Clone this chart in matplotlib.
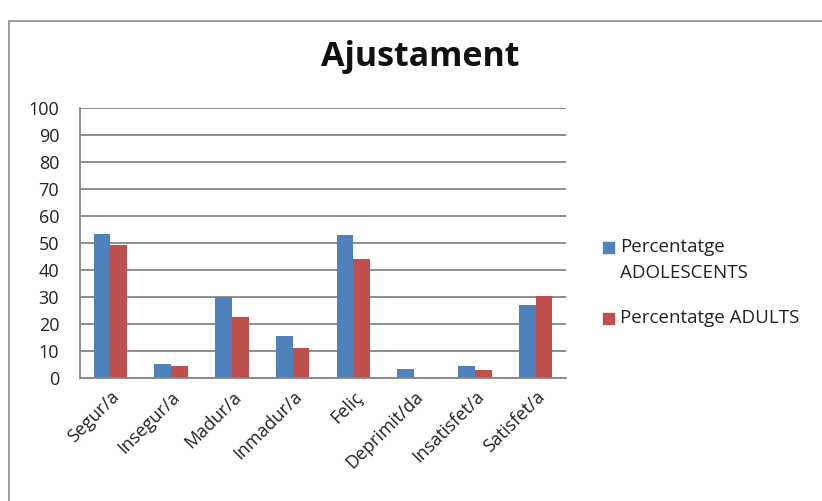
import numpy as np
import matplotlib.pyplot as plt
from matplotlib.patches import Rectangle

# Values
categories = ['Segur/a', 'Insegur/a', 'Madur/a', 'Inmadur/a', 'Feliç',
              'Deprimit/da', 'Insatisfet/a', 'Satisfet/a']
adolescents = [53.5, 5.2, 30.0, 15.6, 53.1, 3.4, 4.6, 27.2]
adults = [49.1, 4.5, 22.7, 11.2, 44.0, 0.0, 2.8, 30.3]
series_labels = ['Percentatge\nADOLESCENTS', 'Percentatge ADULTS']
series_colors = ['#4F81BD', '#C0504D']
y_ticks = list(range(0, 101, 10))

plt.rcParams['font.family'] = ['Open Sans', 'DejaVu Sans']

fig = plt.figure(figsize=(8.22, 5.01), dpi=100)
ax = fig.add_axes([0.0973, 0.2455, 0.5913, 0.5389])

# outer chart border (clipped by figure edge like the screenshot)
fig.patches.append(Rectangle((9 / 822, -0.1), 1.2, 1 - 21 / 501 + 0.1,
                             transform=fig.transFigure, fill=False,
                             edgecolor='#8c8c8c', linewidth=1.2))

x = np.arange(len(categories))
w = 0.275
ax.bar(x - w / 2, adolescents, w, color=series_colors[0])
ax.bar(x + w / 2, adults, w, color=series_colors[1])

ax.set_xlim(-0.5, len(categories) - 0.5)
ax.set_ylim(0, 100)
ax.set_yticks(y_ticks)
ax.set_yticklabels([str(v) for v in y_ticks])
ax.yaxis.grid(True, color='#868686', linewidth=1.3)
ax.set_axisbelow(True)

ax.set_xticks(x)
ax.set_xticklabels(categories, rotation=45, ha='right', rotation_mode='anchor')
ax.tick_params(axis='x', length=0, pad=7, labelsize=13, colors='#222222')
ax.tick_params(axis='y', length=0, pad=15, labelsize=13, colors='#222222')

for side in ['top', 'right']:
    ax.spines[side].set_visible(False)
for side in ['left', 'bottom']:
    ax.spines[side].set_color('#868686')
    ax.spines[side].set_linewidth(1.3)

fig.text(0.511, 0.886, 'Ajustament', ha='center', va='center',
         fontsize=24.5, fontweight='bold', color='#111111')

# legend, drawn by hand so the square sits on the first text line
legend_y = [247.5, 318]
for lab, col, yp in zip(series_labels, series_colors, legend_y):
    fig.patches.append(Rectangle((603 / 822, 1 - (yp + 5.5) / 501), 11 / 822, 11 / 501,
                                 transform=fig.transFigure, color=col))
    fig.text(620 / 822, 1 - (yp - 9) / 501, lab, ha='left', va='top',
             fontsize=13.5, color='#222222', linespacing=1.5)

plt.savefig('out.png', dpi=100)
